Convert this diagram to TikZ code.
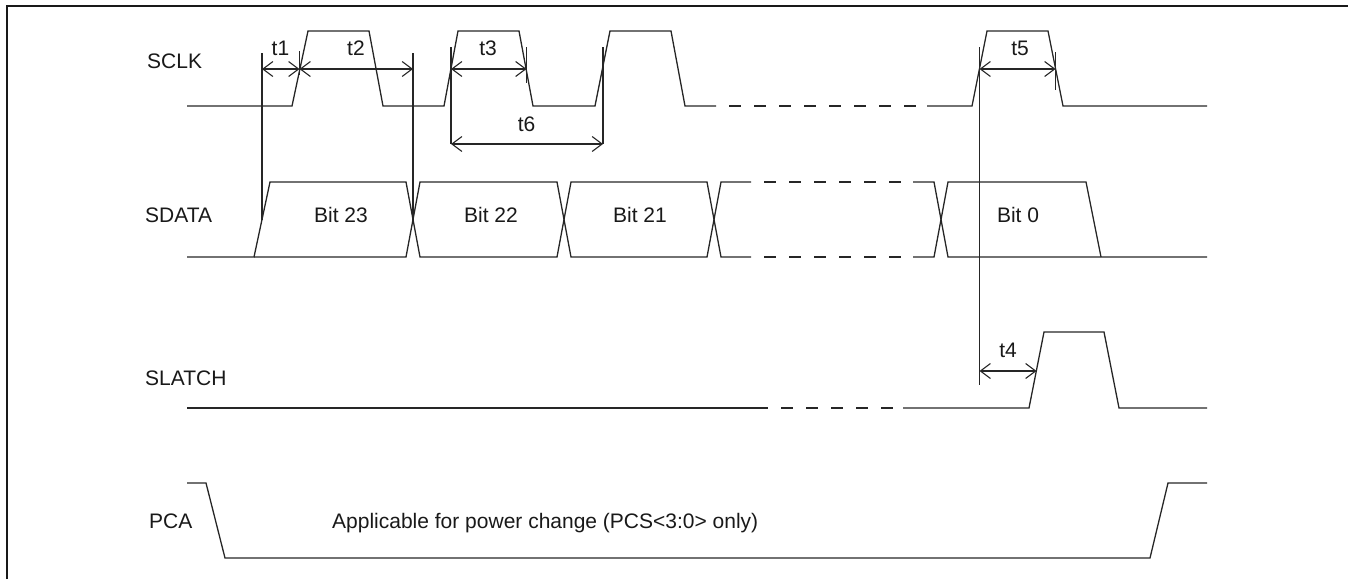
\documentclass[tikz,border=0pt]{standalone}
\usepackage{fontspec}
\setmainfont{Liberation Sans}
\usetikzlibrary{arrows.meta}

\begin{document}
\begin{tikzpicture}[
    x=1pt, y=-1pt,
    wave/.style={line width=1.3pt, draw=black!85, line join=miter},
    gap/.style={wave, dash pattern=on 12pt off 13pt, dash phase=12pt},
    guide/.style={line width=1.1pt, draw=black!85},
    dim/.style={line width=1.1pt, draw=black!85, {Straight Barb[length=10pt,width=15pt]}-{Straight Barb[length=10pt,width=15pt]}},
    lbl/.style={font=\fontsize{21}{25}\selectfont, text=black!90, inner sep=0pt}
]
\useasboundingbox (0,0) rectangle (1348,579);

% Frame
\draw[line width=2.2pt, draw=black!90] (7,579) -- (7,6.3) -- (1348,6.3);

% Signal names
\node[lbl, anchor=base west] (sclk) at (147,68.5) {SCLK};
\node[lbl, anchor=base west] (sdata) at (145,222) {SDATA};
\node[lbl, anchor=base west] (slatch) at (145,385) {SLATCH};
\node[lbl, anchor=base west] (pca) at (149,528) {PCA};

% SCLK
\draw[wave] (187,106) -- (292,106) -- (308,31) -- (369,31) -- (383,106) -- (444,106) -- (458,31) -- (519,31)
    -- (533,106) -- (595,106) -- (610,31) -- (671,31) -- (685,106) -- (716,106);
\draw[gap] (716,106) -- (927,106);
\draw[wave] (927,106) -- (972,106) -- (987,31) -- (1048,31) -- (1063,106) -- (1207,106);

% SDATA
\draw[wave] (187,257) -- (254,257) -- (270,182) -- (406,182) -- (420,257) -- (557,257) -- (571,182) -- (707,182)
    -- (721,257) -- (751,257);
\draw[wave] (254,257) -- (406,257) -- (420,182) -- (557,182) -- (571,257) -- (707,257) -- (721,182) -- (751,182);
\draw[gap] (751,182) -- (913,182);
\draw[gap] (751,257) -- (913,257);
\draw[wave] (913,182) -- (934,182) -- (948,257) -- (1101,257) -- (1207,257);
\draw[wave] (913,257) -- (934,257) -- (948,182) -- (1086,182) -- (1101,257);
\node[lbl, anchor=base] (bit23) at (341,222) {Bit 23};
\node[lbl, anchor=base] (bit22) at (491,222) {Bit 22};
\node[lbl, anchor=base] (bit21) at (640,222) {Bit 21};
\node[lbl, anchor=base] (bit0) at (1018,222) {Bit 0};

% SLATCH
\draw[wave] (187,408) -- (768,408);
\draw[gap] (768,408) -- (903,408);
\draw[wave] (903,408) -- (1029,408) -- (1044,332) -- (1104,332) -- (1119,408) -- (1207,408);

% PCA
\draw[wave] (187,483) -- (206,483) -- (225,558) -- (1150,558) -- (1168,483) -- (1207,483);
\node[lbl, anchor=base west] (note) at (332,528) {Applicable for power change (PCS<3:0> only)};

% Timing marks
\coordinate (a1) at (262,69);
\coordinate (a2) at (299.5,69);
\coordinate (a3) at (413,69);
\coordinate (b1) at (451,69);
\coordinate (b2) at (526.5,69);
\coordinate (c1) at (451,144);
\coordinate (c2) at (603,144);
\coordinate (d1) at (979.5,69);
\coordinate (d2) at (1055.5,69);
\coordinate (e1) at (979.5,371);
\coordinate (e2) at (1036.5,371);

\draw[guide] (262,53) -- (262,219.5);
\draw[guide] (413,53) -- (413,219.5);
\draw[guide] (451,47) -- (c1);
\draw[guide] (603,47) -- (c2);
\draw[guide] (979.5,47) -- (979.5,385);
\draw[guide] (299.5,51) -- (299.5,75);
\draw[guide] (526.5,47) -- (526.5,83);
\draw[guide] (1055.5,52) -- (1055.5,90);

\draw[dim] (a1) -- (a2);
\draw[dim] (a2) -- (a3);
\draw[dim] (b1) -- (b2);
\draw[dim] (c1) -- (c2);
\draw[dim] (d1) -- (d2);
\draw[dim] (e1) -- (e2);

\node[lbl, anchor=base] (t1) at (280.5,55) {t1};
\node[lbl, anchor=base] (t2) at (356,55) {t2};
\node[lbl, anchor=base] (t3) at (488,55) {t3};
\node[lbl, anchor=base] (t5) at (1020,55) {t5};
\node[lbl, anchor=base] (t6) at (526.5,131) {t6};
\node[lbl, anchor=base] (t4) at (1008,357) {t4};

\end{tikzpicture}
\end{document}
